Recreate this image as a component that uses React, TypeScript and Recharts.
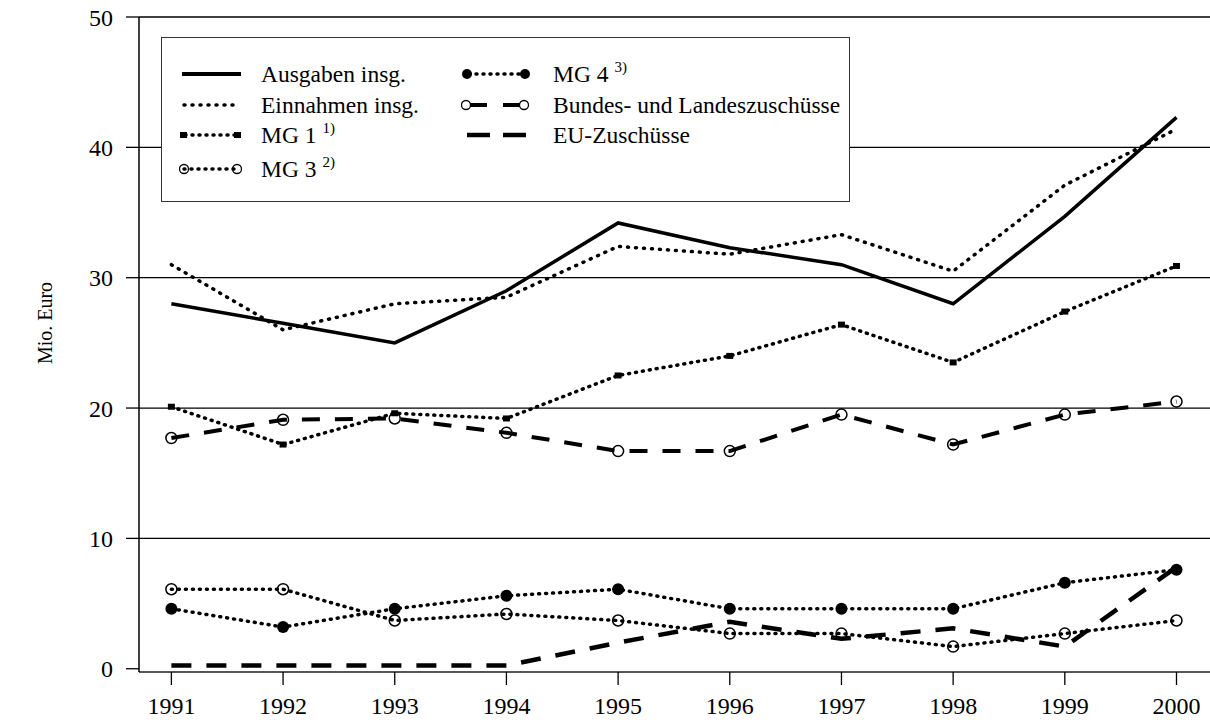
import { LineChart, Line, XAxis, YAxis, CartesianGrid, Legend, Label } from 'recharts';

const years = [1991, 1992, 1993, 1994, 1995, 1996, 1997, 1998, 1999, 2000];
const ausgaben = [28.0, 26.5, 25.0, 29.0, 34.2, 32.3, 31.0, 28.0, 34.7, 42.3];
const einnahmen = [31.0, 26.0, 28.0, 28.5, 32.4, 31.8, 33.3, 30.5, 37.1, 41.4];
const mg1 = [20.1, 17.2, 19.6, 19.2, 22.5, 24.0, 26.4, 23.5, 27.4, 30.9];
const mg3 = [6.1, 6.1, 3.7, 4.2, 3.7, 2.7, 2.7, 1.7, 2.7, 3.7];
const mg4 = [4.6, 3.2, 4.6, 5.6, 6.1, 4.6, 4.6, 4.6, 6.6, 7.6];
const bundLand = [17.7, 19.1, 19.2, 18.1, 16.7, 16.7, 19.5, 17.2, 19.5, 20.5];
const euZuschuesse = [0.25, 0.25, 0.25, 0.25, 2.0, 3.6, 2.3, 3.1, 1.7, 7.8];
const yTicks = [0, 10, 20, 30, 40, 50];
const gridValues = [10, 20, 30, 40, 50];

const data = years.map((year, i) => ({
  year,
  ausgaben: ausgaben[i],
  einnahmen: einnahmen[i],
  mg1: mg1[i],
  mg3: mg3[i],
  mg4: mg4[i],
  bundLand: bundLand[i],
  eu: euZuschuesse[i],
}));

const FONT = '"Liberation Serif", "Times New Roman", serif';
const DOTTED = '1 7';
const DOTTED_MG = '1 6';
const DASHED = '20 15';

const squareDot = (p: any) => (
  <rect key={`sq-${p.index}`} x={p.cx - 3.5} y={p.cy - 3} width={7} height={6} fill="#000" />
);
const openDot = (p: any) => (
  <circle key={`od-${p.index}`} cx={p.cx} cy={p.cy} r={5.5} fill="none" stroke="#000" strokeWidth={1.5} />
);
const filledDot = (p: any) => (
  <circle key={`fd-${p.index}`} cx={p.cx} cy={p.cy} r={6} fill="#000" />
);

// legend samples, drawn in a 72x20 box
const sampleLine = (x1: number, x2: number, dash?: string, w = 3.5) => (
  <line x1={x1} y1={10} x2={x2} y2={10} stroke="#000" strokeWidth={w}
    strokeDasharray={dash} strokeLinecap={dash ? 'round' : 'butt'} />
);
const ring = (cx: number, fill = 'none') => (
  <circle cx={cx} cy={10} r={4.5} fill={fill} stroke="#000" strokeWidth={1.3} />
);

const legendItems = [
  { col: 0, row: 0, label: 'Ausgaben insg.', sample: sampleLine(3, 62, undefined, 4) },
  { col: 0, row: 1, label: 'Einnahmen insg.', sample: sampleLine(5, 60, DOTTED) },
  {
    col: 0, row: 2, label: 'MG 1', sup: '1)',
    sample: <>{sampleLine(6, 56, DOTTED_MG)}<rect x={1} y={7} width={7} height={6} /><rect x={55} y={7} width={7} height={6} /></>,
  },
  {
    col: 0, row: 3, label: 'MG 3', sup: '2)',
    sample: <>{sampleLine(5, 58, DOTTED_MG)}{ring(5)}{ring(58)}</>,
  },
  {
    col: 1, row: 0, label: 'MG 4', sup: '3)',
    sample: <>{sampleLine(8, 62, DOTTED_MG)}<circle cx={6} cy={10} r={5} /><circle cx={64} cy={10} r={5} /></>,
  },
  {
    col: 1, row: 1, label: 'Bundes- und Landeszuschüsse',
    sample: <>{sampleLine(9, 26, undefined, 4)}{sampleLine(42, 59, undefined, 4)}{ring(5, '#fff')}{ring(63, '#fff')}</>,
  },
  {
    col: 1, row: 2, label: 'EU-Zuschüsse',
    sample: <>{sampleLine(6, 29, undefined, 4.5)}{sampleLine(42, 65, undefined, 4.5)}</>,
  },
];

const colSample = [17, 299];
const colText = [99, 391];
const rowCenter = [36, 67, 97, 131];

const LegendBox = () => (
  <div style={{
    width: 687, height: 163, border: '1.5px solid #333', background: '#fff',
    position: 'relative', fontFamily: FONT, fontSize: 23.5, color: '#000',
  }}>
    {legendItems.map((item) => (
      <div key={item.label}>
        <svg width={72} height={20} style={{ position: 'absolute', left: colSample[item.col], top: rowCenter[item.row] - 10 }}>
          {item.sample}
        </svg>
        <span style={{
          position: 'absolute', left: colText[item.col], top: rowCenter[item.row] - 14,
          lineHeight: '28px', whiteSpace: 'nowrap',
        }}>
          {item.label}
          {item.sup && <span style={{ fontSize: 15, marginLeft: 6, position: 'relative', top: -10 }}>{item.sup}</span>}
        </span>
      </div>
    ))}
  </div>
);

const App = () => (
  <div style={{ position: 'absolute', left: 0, top: 0, background: '#fff' }}>
    <LineChart width={1210} height={724} data={data} margin={{ top: 17, right: 0, left: 0, bottom: 0 }}>
      <CartesianGrid horizontal vertical={false} horizontalValues={gridValues} stroke="#000" strokeWidth={1.3} />
      <XAxis
        dataKey="year" type="number" domain={[1990.71, 2000.3]} ticks={years} height={52}
        axisLine={{ stroke: '#555', strokeWidth: 2 }} tickLine={{ stroke: '#000', strokeWidth: 1.3 }}
        tickSize={13} tickMargin={12} interval={0}
        tick={{ fill: '#000', fontSize: 24, fontFamily: FONT }}
      />
      <YAxis
        type="number" domain={[-0.25, 50]} ticks={yTicks} allowDataOverflow width={139}
        axisLine={{ stroke: '#000', strokeWidth: 1.5 }} tickLine={{ stroke: '#000', strokeWidth: 1.3 }}
        tickSize={13} tickMargin={13} interval={0}
        tick={{ fill: '#000', fontSize: 24, fontFamily: FONT }}
      >
        <Label content={() => (
          <text x={45} y={323} transform="rotate(-90 45 323)" textAnchor="middle" dominantBaseline="central"
            fontFamily={FONT} fontSize={20} fill="#000">Mio. Euro</text>
        )} />
      </YAxis>
      <Legend verticalAlign="middle" align="center" layout="horizontal" content={LegendBox}
        wrapperStyle={{ left: 161, top: 37, width: 690, height: 166 }} />
      <Line dataKey="eu" name="EU-Zuschüsse" stroke="#000" strokeWidth={4.5} strokeDasharray={DASHED}
        dot={false} isAnimationActive={false} />
      <Line dataKey="bundLand" name="Bundes- und Landeszuschüsse" stroke="#000" strokeWidth={4} strokeDasharray="18 15"
        dot={openDot} isAnimationActive={false} />
      <Line dataKey="mg4" name="MG 4" stroke="#000" strokeWidth={3.5} strokeDasharray={DOTTED_MG} strokeLinecap="round"
        dot={filledDot} isAnimationActive={false} />
      <Line dataKey="mg3" name="MG 3" stroke="#000" strokeWidth={3.5} strokeDasharray={DOTTED_MG} strokeLinecap="round"
        dot={openDot} isAnimationActive={false} />
      <Line dataKey="mg1" name="MG 1" stroke="#000" strokeWidth={3.5} strokeDasharray={DOTTED_MG} strokeLinecap="round"
        dot={squareDot} isAnimationActive={false} />
      <Line dataKey="einnahmen" name="Einnahmen insg." stroke="#000" strokeWidth={3.5} strokeDasharray={DOTTED} strokeLinecap="round"
        dot={false} isAnimationActive={false} />
      <Line dataKey="ausgaben" name="Ausgaben insg." stroke="#000" strokeWidth={3.5}
        dot={false} isAnimationActive={false} />
    </LineChart>
  </div>
);

export default App;
